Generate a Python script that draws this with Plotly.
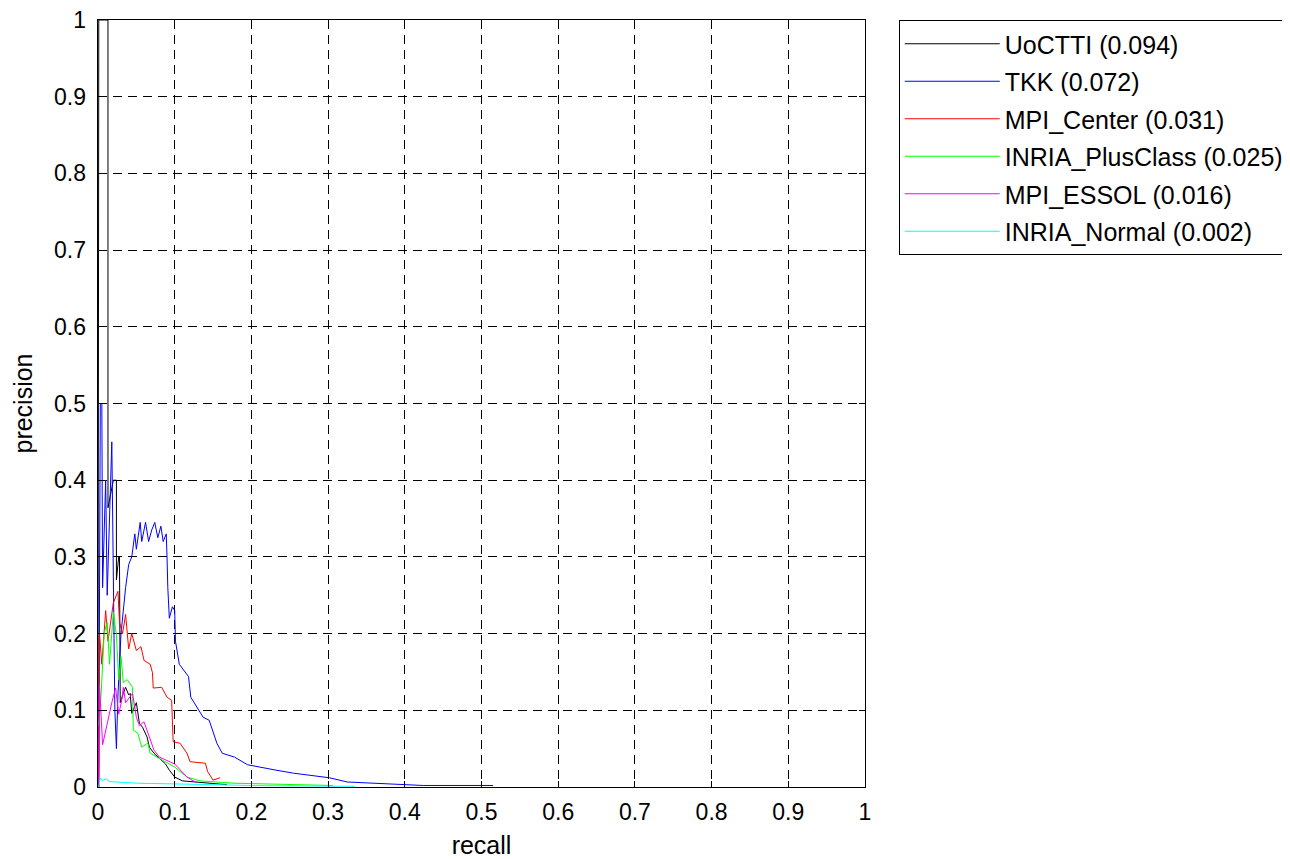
import plotly.graph_objects as go

names = ["UoCTTI (0.094)", "TKK (0.072)", "MPI_Center (0.031)",
         "INRIA_PlusClass (0.025)", "MPI_ESSOL (0.016)", "INRIA_Normal (0.002)"]
colors = ["#000000", "#0000FF", "#FF0000", "#00FF00", "#FF00FF", "#00FFFF"]

uoctti_recall = [0.0, 0.001, 0.013, 0.013, 0.020, 0.024, 0.024, 0.027, 0.028, 0.029, 0.033, 0.036, 0.040,
                 0.042, 0.044, 0.050, 0.054, 0.058, 0.064, 0.067, 0.073, 0.080, 0.088, 0.093, 0.100,
                 0.110, 0.140, 0.168]
uoctti_prec = [0.0, 1.0, 1.0, 0.364, 0.40, 0.40, 0.27, 0.30, 0.30, 0.11, 0.122, 0.13, 0.12,
               0.122, 0.096, 0.11, 0.083, 0.078, 0.065, 0.052, 0.044, 0.038, 0.030, 0.022, 0.013,
               0.008, 0.005, 0.003]

tkk_recall = [0.001, 0.003, 0.005, 0.006, 0.010, 0.012, 0.018, 0.022, 0.024, 0.026, 0.030, 0.036,
              0.040, 0.044, 0.048, 0.050, 0.055, 0.057, 0.062, 0.066, 0.070, 0.074, 0.078, 0.082,
              0.085, 0.089, 0.090, 0.091, 0.093, 0.097, 0.100, 0.101, 0.106, 0.112, 0.118, 0.121,
              0.137, 0.145, 0.149, 0.155, 0.162, 0.178, 0.195, 0.210, 0.232, 0.255, 0.273, 0.302,
              0.325, 0.385, 0.424, 0.515]
tkk_prec = [0.0, 0.50, 0.50, 0.26, 0.40, 0.25, 0.45, 0.10, 0.05, 0.12, 0.20, 0.26,
            0.29, 0.30, 0.33, 0.31, 0.345, 0.32, 0.345, 0.32, 0.335, 0.345, 0.325, 0.34,
            0.32, 0.33, 0.30, 0.26, 0.22, 0.235, 0.23, 0.19, 0.16, 0.152, 0.144, 0.117,
            0.091, 0.087, 0.074, 0.057, 0.044, 0.039, 0.029, 0.026, 0.022, 0.018, 0.016, 0.012,
            0.0065, 0.004, 0.002, 0.002]

mpic_recall = [0.001, 0.002, 0.005, 0.010, 0.013, 0.020, 0.026, 0.028, 0.032, 0.036, 0.040, 0.044,
               0.050, 0.056, 0.060, 0.068, 0.071, 0.072, 0.083, 0.090, 0.096, 0.098, 0.107, 0.116,
               0.120, 0.140, 0.143, 0.150, 0.159]
mpic_prec = [0.0, 0.20, 0.16, 0.23, 0.19, 0.24, 0.255, 0.215, 0.20, 0.225, 0.18, 0.20,
             0.178, 0.183, 0.165, 0.16, 0.149, 0.129, 0.13, 0.117, 0.113, 0.059, 0.057, 0.044,
             0.033, 0.031, 0.020, 0.009, 0.012]

inriap_recall = [0.001, 0.004, 0.008, 0.012, 0.015, 0.020, 0.024, 0.027, 0.030, 0.033, 0.038, 0.045,
                 0.046, 0.052, 0.057, 0.065, 0.068, 0.077, 0.090, 0.100, 0.116, 0.133, 0.176,
                 0.245, 0.306]
inriap_prec = [0.08, 0.12, 0.20, 0.215, 0.16, 0.228, 0.198, 0.14, 0.17, 0.136, 0.14, 0.13,
               0.074, 0.07, 0.052, 0.057, 0.044, 0.039, 0.031, 0.026, 0.013, 0.008, 0.005,
               0.003, 0.002]

mpie_recall = [0.001, 0.002, 0.006, 0.014, 0.018, 0.023, 0.027, 0.031, 0.033, 0.036, 0.045, 0.050,
               0.054, 0.060, 0.068, 0.073, 0.080, 0.090, 0.100, 0.116, 0.124, 0.130]
mpie_prec = [0.0, 0.133, 0.055, 0.094, 0.11, 0.129, 0.095, 0.113, 0.13, 0.11, 0.122, 0.091,
             0.08, 0.085, 0.061, 0.048, 0.039, 0.035, 0.030, 0.013, 0.008, 0.006]

inrian_recall = [0.001, 0.003, 0.006, 0.010, 0.015, 0.030, 0.050, 0.100, 0.150, 0.200, 0.300, 0.335]
inrian_prec = [0.0, 0.012, 0.008, 0.011, 0.007, 0.006, 0.005, 0.004, 0.003, 0.002, 0.001, 0.001]

recalls = [uoctti_recall, tkk_recall, mpic_recall, inriap_recall, mpie_recall, inrian_recall]
precs = [uoctti_prec, tkk_prec, mpic_prec, inriap_prec, mpie_prec, inrian_prec]

tick_vals = [0, 0.1, 0.2, 0.3, 0.4, 0.5, 0.6, 0.7, 0.8, 0.9, 1]
tick_text = ["0", "0.1", "0.2", "0.3", "0.4", "0.5", "0.6", "0.7", "0.8", "0.9", "1"]

FONT = "Liberation Sans, Arial"
NBSP = "\u00a0"
FS = 23

fig = go.Figure()
for i in range(len(names)):
    fig.add_trace(go.Scatter(x=recalls[i], y=precs[i], mode="lines", name=names[i],
                             legendgroup=f"g{i}",
                             line=dict(color=colors[i], width=1)))

axis_common = dict(range=[0, 1], tickvals=tick_vals,
                   showgrid=True, gridcolor="#000000", gridwidth=1, griddash="9px,6px",
                   zeroline=False, showline=True, linecolor="#000000", linewidth=1,
                   mirror="ticks", ticks="inside", ticklen=6, tickcolor="#000000",
                   automargin=False, ticklabeloverflow="allow",
                   tickfont=dict(family=FONT, size=FS, color="#000000"))

fig.update_layout(
    width=1290, height=859,
    margin=dict(l=90, r=433, t=12, b=80, autoexpand=False),
    paper_bgcolor="white", plot_bgcolor="white",
    font=dict(family=FONT, size=FS, color="#000000"),
    xaxis=dict(title=dict(text="recall", font=dict(family=FONT, size=25), standoff=12),
               ticktext=tick_text, ticklabelstandoff=4, **axis_common),
    yaxis=dict(title=dict(text="precision", font=dict(family=FONT, size=25), standoff=14),
               ticktext=[t + NBSP for t in tick_text], **axis_common),
    legend=dict(x=1.044, y=1.0, xanchor="left", yanchor="top",
                bordercolor="#000000", borderwidth=1, bgcolor="white",
                font=dict(family=FONT, size=25, color="#000000"),
                itemwidth=95,
                tracegroupgap=2, traceorder="grouped"),
    showlegend=True,
)

fig.write_html("out.html")
